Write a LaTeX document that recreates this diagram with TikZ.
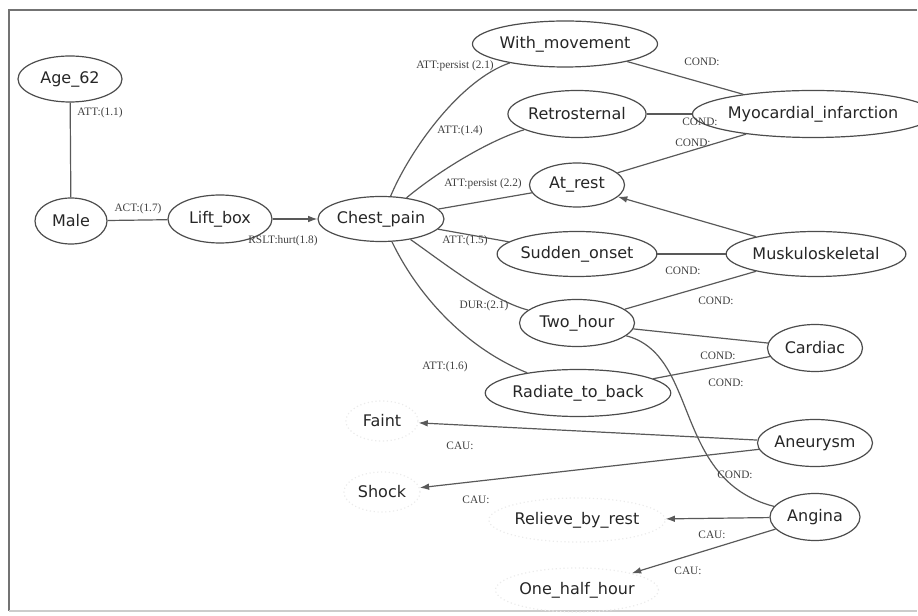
\documentclass[tikz,border=0pt]{standalone}
\usepackage{fontspec}
\setmainfont{DejaVu Sans}
\newfontfamily\lblfont{Liberation Serif}
\usetikzlibrary{shapes.geometric,arrows.meta}
\begin{document}
\begin{tikzpicture}[x=0.75pt,y=-0.75pt,
  every node/.style={inner sep=0pt},
  ent/.style={ellipse,draw=black!70,line width=0.9pt,font=\fontsize{12}{14}\selectfont,text=black!85},
  ghost/.style={ellipse,draw=black!8,dotted,line width=0.9pt,font=\fontsize{12}{14}\selectfont,text=black!85},
  lbl/.style={font=\lblfont\fontsize{8.5}{10}\selectfont,text=black!75},
  conn/.style={draw=black!65,line width=0.9pt},
  arr/.style={conn,-{Latex[length=7pt,width=5pt]}},
  sz/.style 2 args={minimum width=#1*0.75pt,minimum height=#2*0.75pt}]
\useasboundingbox (0,0) rectangle (918,616);
\draw[black!55,line width=1.5pt] (917,10) -- (9,10) -- (9,611);
\draw[black!20,line width=1.2pt] (9,611) -- (917,611);

% entity nodes
\node[ent,sz={104}{46}] (age) at (70,79) {Age\_62};
\node[ent,sz={72}{46}] (male) at (71,221) {Male};
\node[ent,sz={104}{48}] (lift) at (220,219) {Lift\_box};
\node[ent,sz={126}{45}] (cp) at (381,219) {Chest\_pain};
\node[ent,sz={146}{46}] (wm) at (565,44) {With\_movement};
\node[ent,sz={133}{47}] (retro) at (577,114) {Retrosternal};
\node[ent,sz={95}{44}] (rest) at (577,185) {At\_rest};
\node[ent,sz={207}{47}] (mi) at (813,114) {Myocardial\_infarction};
\node[ent,sz={149}{45}] (so) at (577,254) {Sudden\_onset};
\node[ent,sz={162}{45}] (musk) at (816,254) {Muskuloskeletal};
\node[ent,sz={115}{47}] (two) at (577,323) {Two\_hour};
\node[ent,sz={95}{47}] (card) at (815,348) {Cardiac};
\node[ent,sz={170}{47}] (rad) at (578,393) {Radiate\_to\_back};
\node[ent,sz={115}{47}] (aneu) at (815,443) {Aneurysm};
\node[ent,sz={90}{47}] (ang) at (815,517) {Angina};
\node[ghost,sz={72}{40}] (faint) at (382,421) {Faint};
\node[ghost,sz={76}{40}] (shock) at (382,492) {Shock};
\node[ghost,sz={170}{44}] (relieve) at (577,520) {Relieve\_by\_rest};
\node[ghost,sz={160}{44}] (half) at (577,590) {One\_half\_hour};

% connectors
\draw[conn] (age) -- (male);
\draw[conn] (male) -- (lift);
\draw[arr] (lift) -- (cp);
\draw[conn] (cp) .. controls (410,150) and (460,80) .. (wm);
\draw[conn] (cp) .. controls (440,170) and (490,140) .. (retro);
\draw[conn] (cp) -- (rest);
\draw[conn] (cp) -- (so);
\draw[conn] (cp) .. controls (440,260) and (490,300) .. (two);
\draw[conn] (cp) .. controls (420,300) and (470,350) .. (rad);
\draw[conn] (wm) -- (mi);
\draw[conn] (retro) -- (mi);
\draw[conn] (rest) -- (mi);
\draw[arr] (musk) -- (rest);
\draw[conn] (so) -- (musk);
\draw[conn] (two) -- (musk);
\draw[conn] (two) -- (card);
\draw[conn] (rad) -- (card);
\draw[conn] (two) .. controls (700,355) and (672,480) .. (ang);
\draw[arr] (aneu) -- (faint);
\draw[arr] (aneu) -- (shock);
\draw[arr] (ang) -- (relieve);
\draw[arr] (ang) -- (half);

% labels
\node[lbl] (l1) at (100,113) {ATT:(1.1)};
\node[lbl] (l2) at (138,209) {ACT:(1.7)};
\node[lbl] (l3) at (283,241) {RSLT:hurt(1.8)};
\node[lbl] (l4) at (455,66) {ATT:persist (2.1)};
\node[lbl] (l5) at (460,131) {ATT:(1.4)};
\node[lbl] (l6) at (483,184) {ATT:persist (2.2)};
\node[lbl] (l7) at (465,241) {ATT:(1.5)};
\node[lbl] (l8) at (484,306) {DUR:(2.1)};
\node[lbl] (l9) at (445,367) {ATT:(1.6)};
\node[lbl] (c1) at (702,62) {COND:};
\node[lbl] (c2) at (700,122) {COND:};
\node[lbl] (c3) at (693,143) {COND:};
\node[lbl] (c4) at (683,271) {COND:};
\node[lbl] (c5) at (716,301) {COND:};
\node[lbl] (c6) at (718,356) {COND:};
\node[lbl] (c7) at (726,383) {COND:};
\node[lbl] (c8) at (735,475) {COND:};
\node[lbl] (k1) at (460,446) {CAU:};
\node[lbl] (k2) at (476,500) {CAU:};
\node[lbl] (k3) at (712,535) {CAU:};
\node[lbl] (k4) at (688,571) {CAU:};
\end{tikzpicture}
\end{document}
